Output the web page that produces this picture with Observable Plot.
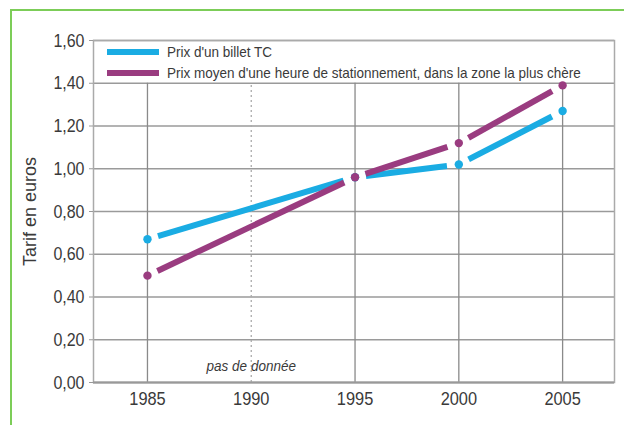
<!DOCTYPE html>
<html>
<head>
<meta charset="utf-8">
<script src="https://cdn.jsdelivr.net/npm/d3@7"></script>
<script src="https://cdn.jsdelivr.net/npm/@observablehq/plot@0.6"></script>
<style>
  html, body { margin: 0; padding: 0; background: #fff; overflow: hidden; }
  #wrap { position: relative; width: 624px; height: 425px; overflow: hidden; font-family: "Liberation Sans", Arial, sans-serif; }
  #wrap svg { position: absolute; left: 0; top: 0; }
  #green { position: absolute; left: 10px; top: 9px; width: 800px; height: 600px; border-left: 2px solid #7ccd58; border-top: 2px solid #7ccd58; pointer-events: none; }
  #legend { position: absolute; left: 107px; top: 41px; font-size: 15px; color: #3a3a3a; white-space: nowrap; }
  .item { display: flex; align-items: center; height: 21px; }
  .swatch { width: 52px; height: 6px; margin-right: 8px; flex: none; }
  .lab { display: inline-block; transform: scaleX(0.9); transform-origin: left center; }
</style>
</head>
<body>
<div id="wrap">
  <div id="green"></div>
</div>
<script>
// ---- data ----
const years = [1985, 1995, 2000, 2005];
const billetTC = [0.67, 0.96, 1.02, 1.27];
const stationnement = [0.50, 0.96, 1.12, 1.39];
const seriesNames = ["Prix d'un billet TC", "Prix moyen d'une heure de stationnement, dans la zone la plus chère"];
const seriesColors = ["#1aace3", "#9a3c80"];
const yTicks = [0, 0.2, 0.4, 0.6, 0.8, 1.0, 1.2, 1.4, 1.6];
const xTicks = [1985, 1990, 1995, 2000, 2005];
const noDataYear = 1990;
const noDataLabel = "pas de donnée";
const yTitle = "Tarif en euros";

// ---- derived tables ----
const series = [billetTC, stationnement];
const points = series.flatMap((vals, s) => vals.map((v, i) => ({year: years[i], value: v, s})));
const segments = series.flatMap((vals, s) => vals.slice(1).map((v, i) => ({
  x1: years[i], y1: vals[i], x2: years[i + 1], y2: v, s
})));
const gridYears = xTicks.filter(d => d !== noDataYear);
const fmt = d => d.toFixed(2).replace(".", ",");

const chart = Plot.plot({
  width: 624,
  height: 425,
  marginLeft: 93,
  marginTop: 40,
  marginRight: 10,
  marginBottom: 43,
  style: {fontFamily: '"Liberation Sans", Arial, sans-serif', color: "#3a3a3a", background: "transparent"},
  x: {domain: [1982.4, 2007.5]},
  y: {domain: [0, 1.6]},
  marks: [
    Plot.ruleY(yTicks, {stroke: "#9a9a9a", strokeWidth: 1.5}),
    Plot.ruleX(gridYears, {y1: 0, y2: 1.4, stroke: "#8a8a8a", strokeWidth: 1.3}),
    Plot.ruleX([noDataYear], {y1: 0, y2: 1.4, stroke: "#aaa", strokeWidth: 1.3, strokeDasharray: "2,3"}),
    Plot.frame({stroke: "#aaa", strokeWidth: 1.5}),
    Plot.text([noDataLabel], {x: noDataYear, y: 0, text: d => d, dy: -16, fontSize: 15, fontStyle: "italic", fill: "#3a3a3a", className: "nodata"}),
    Plot.axisY({ticks: yTicks, tickFormat: fmt, tickSize: 4, tickPadding: 5, fontSize: 19, stroke: "#999",
      label: yTitle, labelAnchor: "center", labelArrow: "none", labelOffset: 70}),
    Plot.axisX({ticks: xTicks, tickFormat: d => String(d), tickSize: 0, tickPadding: 9, fontSize: 19, label: null}),
    Plot.ruleY([0], {stroke: "#999", strokeWidth: 2}),
    Plot.arrow(segments, {x1: "x1", y1: "y1", x2: "x2", y2: "y2", stroke: d => seriesColors[d.s],
      strokeWidth: 6, headLength: 0, insetStart: 11, insetEnd: 12, strokeLinecap: "butt"}),
    Plot.dot(points, {x: "year", y: "value", r: 4.2, fill: d => seriesColors[d.s], stroke: "none"})
  ]
});
const wrap = document.getElementById("wrap");
wrap.insertBefore(chart, wrap.firstChild);

// y-axis title font size
chart.querySelectorAll("[aria-label='y-axis label'] text, [aria-label='y-axis label']").forEach(t => t.setAttribute("font-size", 18));

// condense tick labels (narrow font look)
function condense(sel, k) {
  chart.querySelectorAll(sel).forEach(t => {
    const len = t.getComputedTextLength();
    if (len > 0) {
      t.setAttribute("textLength", (len * k).toFixed(1));
      t.setAttribute("lengthAdjust", "spacingAndGlyphs");
    }
  });
}
condense("[aria-label='y-axis tick label'] text", 0.84);
condense("[aria-label='x-axis tick label'] text", 0.86);
condense(".nodata text", 0.9);

const legend = document.createElement("div");
legend.id = "legend";
seriesNames.forEach((name, i) => {
  const item = document.createElement("div");
  item.className = "item";
  const sw = document.createElement("div");
  sw.className = "swatch";
  sw.style.background = seriesColors[i];
  const lab = document.createElement("span");
  lab.className = "lab";
  lab.textContent = name;
  item.appendChild(sw);
  item.appendChild(lab);
  legend.appendChild(item);
});
wrap.appendChild(legend);
</script>
</body>
</html>
